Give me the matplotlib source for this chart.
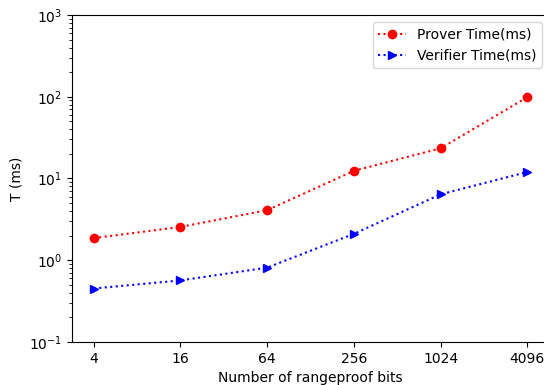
import matplotlib
matplotlib.use("Agg")
from matplotlib import pyplot as plt

bits = ["4", "16", "64", "256", "1024", "4096"]
prover_ms = [1.86, 2.55, 4.09, 12.4, 23.4, 99.0]
verifier_ms = [0.45, 0.565, 0.81, 2.10, 6.4, 12.0]

fig = plt.figure(figsize=(5.44, 3.85), dpi=100)
ax = fig.add_axes([0.1324, 0.112, 0.877, 0.849])

x = range(len(bits))
ax.plot(x, prover_ms, "ro:", label="Prover Time(ms)")
ax.plot(x, verifier_ms, "b>:", label="Verifier Time(ms)")

ax.set_yscale("log")
ax.set_ylim(0.1, 1000)
ax.set_xticks(list(x))
ax.set_xticklabels(bits)
ax.set_xlabel("Number of rangeproof bits")
ax.set_ylabel("T (ms)")
ax.legend(loc="upper right")

fig.savefig("out.png", dpi=100)
